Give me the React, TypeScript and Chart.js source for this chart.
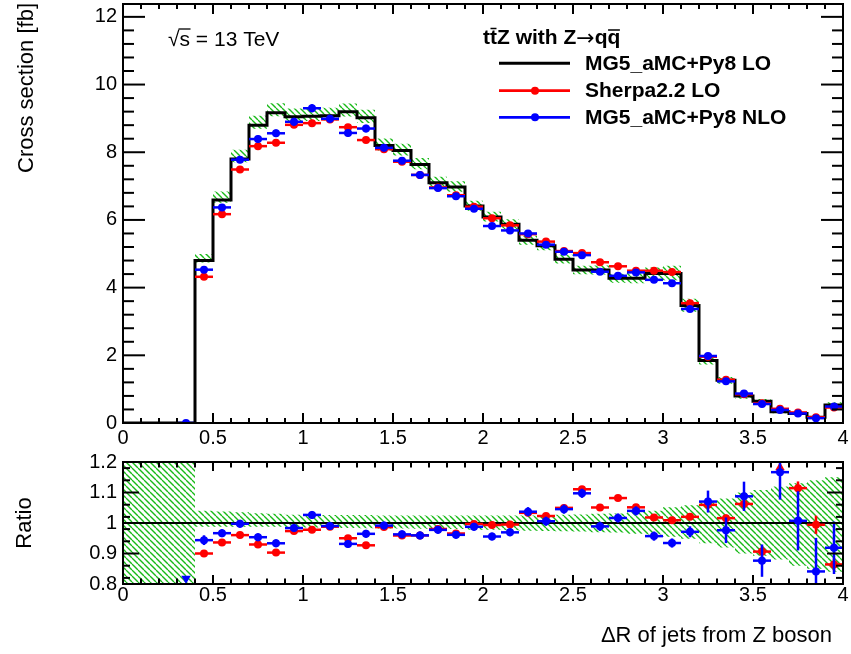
import React, { useEffect, useRef } from 'react';
import { Chart, registerables } from 'chart.js';

Chart.register(...registerables);

// ---------------- data ----------------
const binEdges = [0, 0.1, 0.2, 0.3, 0.4, 0.5, 0.6, 0.7, 0.8, 0.9, 1.0, 1.1, 1.2, 1.3, 1.4, 1.5, 1.6, 1.7, 1.8, 1.9, 2.0,
  2.1, 2.2, 2.3, 2.4, 2.5, 2.6, 2.7, 2.8, 2.9, 3.0, 3.1, 3.2, 3.3, 3.4, 3.5, 3.6, 3.7, 3.8, 3.9, 4.0];

// MG5_aMC+Py8 LO (black histogram)
const mg5LO = [0, 0, 0, 0, 4.8, 6.59, 7.8, 8.8, 9.17, 9.05, 9.06, 9.08, 9.2, 9.02, 8.2, 8.05, 7.64, 7.1, 6.97, 6.41,
  6.09, 5.87, 5.4, 5.24, 4.84, 4.52, 4.52, 4.28, 4.28, 4.42, 4.42, 3.47, 1.85, 1.26, 0.8, 0.64, 0.33, 0.28, 0.17, 0.53];

// Sherpa2.2 LO (red points)
const sherpaLO: (number | null)[] = [null, null, null, null, 4.32, 6.17, 7.49, 8.18, 8.28, 8.81, 8.86, 8.97, 8.74, 8.36,
  8.09, 7.72, 7.33, 6.96, 6.73, 6.39, 6.05, 5.84, 5.58, 5.36, 5.08, 5.02, 4.75, 4.63, 4.5, 4.5, 4.46, 3.54, 1.96, 1.28,
  0.85, 0.58, 0.42, 0.312, 0.169, 0.458];

// MG5_aMC+Py8 NLO (blue points)
const mg5NLO: (number | null)[] = [null, null, null, 0, 4.53, 6.37, 7.78, 8.39, 8.56, 8.9, 9.3, 8.99, 8.57, 8.7,
  8.13, 7.75, 7.33, 6.94, 6.7, 6.33, 5.82, 5.69, 5.6, 5.27, 5.06, 4.96, 4.47, 4.35, 4.45, 4.23, 4.13, 3.37, 1.98, 1.23,
  0.87, 0.561, 0.385, 0.282, 0.143, 0.487];

// relative statistical uncertainties of the points
const sherpaRelErr = [0, 0, 0, 0, 0.006, 0.006, 0.006, 0.006, 0.006, 0.006, 0.006, 0.006, 0.006, 0.006, 0.006, 0.006,
  0.006, 0.006, 0.006, 0.006, 0.006, 0.006, 0.006, 0.006, 0.006, 0.006, 0.006, 0.006, 0.006, 0.006, 0.006, 0.006,
  0.01, 0.012, 0.015, 0.018, 0.02, 0.022, 0.03, 0.02];
const nloRelErr = [0, 0, 0, 0, 0.016, 0.013, 0.013, 0.013, 0.013, 0.013, 0.013, 0.013, 0.013, 0.013, 0.013, 0.013,
  0.013, 0.013, 0.013, 0.013, 0.013, 0.013, 0.015, 0.015, 0.015, 0.015, 0.015, 0.015, 0.015, 0.015, 0.015, 0.018,
  0.036, 0.042, 0.048, 0.053, 0.09, 0.097, 0.11, 0.086];

// relative uncertainty band of the LO histogram (hatched)
const bandUp = [0, 0, 0, 0, 0.04, 0.038, 0.035, 0.032, 0.03, 0.027, 0.027, 0.026, 0.026, 0.026, 0.025, 0.025, 0.025,
  0.025, 0.025, 0.025, 0.025, 0.025, 0.025, 0.026, 0.027, 0.028, 0.03, 0.031, 0.036, 0.04, 0.052, 0.058, 0.069, 0.08,
  0.1, 0.108, 0.12, 0.13, 0.14, 0.15];
const bandDown = [0, 0, 0, 0, 0.012, 0.012, 0.012, 0.012, 0.012, 0.015, 0.015, 0.015, 0.016, 0.017, 0.018, 0.018,
  0.019, 0.02, 0.02, 0.022, 0.022, 0.024, 0.025, 0.026, 0.027, 0.028, 0.03, 0.031, 0.035, 0.038, 0.045, 0.052, 0.066,
  0.08, 0.1, 0.107, 0.12, 0.14, 0.15, 0.16];

const xMajorTicks = [0, 0.5, 1, 1.5, 2, 2.5, 3, 3.5, 4];
const yTicksTop = [0, 2, 4, 6, 8, 10, 12];
const yTicksRatio = [0.8, 0.9, 1, 1.1, 1.2];
const ratioMajorTicks = [0.9, 1.0, 1.1];
const ratioMinorTicks = [0.82, 0.86, 0.94, 0.98, 1.02, 1.06, 1.14, 1.18];

const legendEntries = ['MG5_aMC+Py8 LO', 'Sherpa2.2 LO', 'MG5_aMC+Py8 NLO'];

// ---------------- helpers ----------------
const FONT = '"Liberation Sans", Arial, Helvetica, sans-serif';
const RED = '#ff0000';
const BLUE = '#0000ff';
const HATCH = '#19b919';
const Y_MAX_TOP = 12.38;
const R_MIN = 0.8;
const R_MAX = 1.2;

const fmt = (v: number) => String(Math.round(v * 10) / 10);

function hatchPattern(color: string): CanvasPattern {
  const s = 6;
  const c = document.createElement('canvas');
  c.width = s;
  c.height = s;
  const g = c.getContext('2d')!;
  g.strokeStyle = color;
  g.lineWidth = 1.35;
  for (const k of [-1, 0, 1]) {
    g.beginPath();
    g.moveTo(k * s, 0);
    g.lineTo(k * s + s, s);
    g.stroke();
  }
  return g.createPattern(c, 'repeat')!;
}

function stepData(vals: number[]) {
  const pts: { x: number; y: number }[] = [];
  vals.forEach((v, i) => {
    pts.push({ x: binEdges[i], y: v }, { x: binEdges[i + 1], y: v });
  });
  return pts;
}

type PItem = { x: number; y: number; tri?: boolean; down?: boolean };
type EItem = { lo: number; hi: number; y: number; err: number; h: boolean };

function topPoints(vals: (number | null)[], rel: number[]) {
  const pts: PItem[] = [];
  const errs: EItem[] = [];
  vals.forEach((v, i) => {
    if (v == null) return;
    const lo = binEdges[i], hi = binEdges[i + 1];
    pts.push({ x: (lo + hi) / 2, y: v });
    errs.push({ lo, hi, y: v, err: rel[i] * v, h: true });
  });
  return { pts, errs };
}

function ratioPoints(vals: (number | null)[], rel: number[]) {
  const pts: PItem[] = [];
  const errs: EItem[] = [];
  vals.forEach((v, i) => {
    if (v == null) return;
    const lo = binEdges[i], hi = binEdges[i + 1];
    const r = mg5LO[i] > 0 ? v / mg5LO[i] : 0;
    if (r > R_MAX) {
      pts.push({ x: (lo + hi) / 2, y: 1.182, tri: true });
    } else if (r < R_MIN) {
      pts.push({ x: (lo + hi) / 2, y: 0.818, tri: true, down: true });
    } else {
      pts.push({ x: (lo + hi) / 2, y: r });
      errs.push({ lo, hi, y: r, err: rel[i], h: true });
    }
  });
  return { pts, errs };
}

const errorBarPlugin = {
  id: 'errorBars',
  beforeDatasetDraw(chart: any, args: any) {
    const ds = chart.data.datasets[args.index];
    const info = ds.errorBars;
    if (!info) return;
    const { ctx, chartArea: a } = chart;
    const xs = chart.scales.x, ys = chart.scales.y;
    ctx.save();
    ctx.beginPath();
    ctx.rect(a.left, a.top, a.right - a.left, a.bottom - a.top);
    ctx.clip();
    ctx.strokeStyle = info.color;
    ctx.lineCap = 'butt';
    ctx.lineWidth = 2.5;
    for (const it of info.items as EItem[]) {
      const y = ys.getPixelForValue(it.y);
      if (it.h) {
        ctx.beginPath();
        ctx.moveTo(xs.getPixelForValue(it.lo), y);
        ctx.lineTo(xs.getPixelForValue(it.hi), y);
        ctx.stroke();
      }
      if (it.err > 0) {
        const xc = xs.getPixelForValue((it.lo + it.hi) / 2);
        ctx.beginPath();
        ctx.moveTo(xc, ys.getPixelForValue(it.y - it.err));
        ctx.lineTo(xc, ys.getPixelForValue(it.y + it.err));
        ctx.stroke();
      }
    }
    ctx.restore();
  },
};

type Tick = { v: number; len: number };

function drawFrame(chart: any, xTicks: Tick[], yTicks: Tick[]) {
  const { ctx, chartArea: a } = chart;
  const xs = chart.scales.x, ys = chart.scales.y;
  ctx.save();
  ctx.strokeStyle = '#000';
  ctx.lineWidth = 2;
  ctx.lineCap = 'butt';
  const line = (x1: number, y1: number, x2: number, y2: number) => {
    ctx.beginPath();
    ctx.moveTo(x1, y1);
    ctx.lineTo(x2, y2);
    ctx.stroke();
  };
  for (const t of xTicks) {
    const x = xs.getPixelForValue(t.v);
    line(x, a.bottom, x, a.bottom - t.len);
    line(x, a.top, x, a.top + t.len);
  }
  for (const t of yTicks) {
    const y = ys.getPixelForValue(t.v);
    line(a.left, y, a.left + t.len, y);
    line(a.right, y, a.right - t.len, y);
  }
  ctx.strokeRect(a.left, a.top, a.right - a.left, a.bottom - a.top);
  ctx.restore();
}

function xAxis(height: number, pad: number) {
  return {
    type: 'linear',
    min: 0,
    max: 4,
    grid: { display: false, drawTicks: false },
    border: { display: false },
    afterBuildTicks: (s: any) => {
      s.ticks = xMajorTicks.map((v) => ({ value: v }));
    },
    afterFit: (s: any) => {
      s.height = height;
      s.paddingLeft = 0;
      s.paddingRight = 0;
    },
    ticks: {
      autoSkip: false,
      maxRotation: 0,
      minRotation: 0,
      padding: pad,
      color: '#000',
      font: { family: FONT, size: 20, lineHeight: 1 },
      callback: (v: any) => fmt(Number(v)),
    },
  };
}

function yAxis(min: number, max: number, ticks: number[], pad: number) {
  return {
    type: 'linear',
    min,
    max,
    grid: { display: false, drawTicks: false },
    border: { display: false },
    afterBuildTicks: (s: any) => {
      s.ticks = ticks.map((v) => ({ value: v }));
    },
    afterFit: (s: any) => {
      s.width = 123;
      s.paddingTop = 0;
      s.paddingBottom = 0;
    },
    ticks: {
      autoSkip: false,
      padding: pad,
      color: '#000',
      font: { family: FONT, size: 20, lineHeight: 1 },
      callback: (v: any) => fmt(Number(v)),
    },
  };
}

function pointDataset(label: string, color: string, pts: PItem[], errs: EItem[], order: number) {
  return {
    label,
    data: pts,
    showLine: false,
    order,
    pointStyle: (c: any) => (c.raw && c.raw.tri ? 'triangle' : 'circle'),
    pointRotation: (c: any) => (c.raw && c.raw.down ? 180 : 0),
    pointRadius: (c: any) => (c.raw && c.raw.tri ? 5.5 : 4),
    pointBackgroundColor: color,
    pointBorderColor: color,
    pointBorderWidth: 0,
    borderColor: color,
    backgroundColor: color,
    errorBars: { color, items: errs },
  };
}

function lineDataset(data: any[], opts: any) {
  return {
    data,
    showLine: true,
    pointRadius: 0,
    tension: 0,
    borderJoinStyle: 'miter',
    borderCapStyle: 'butt',
    ...opts,
  };
}

function buildTopConfig(hatch: CanvasPattern): any {
  const red = topPoints(sherpaLO, sherpaRelErr);
  const blue = topPoints(mg5NLO, nloRelErr);
  const upper = mg5LO.map((v, i) => v * (1 + bandUp[i]));
  const lower = mg5LO.map((v, i) => v * (1 - bandDown[i]));

  const xTicks: Tick[] = [];
  for (let k = 0; k <= 40; k++) xTicks.push({ v: k / 10, len: k % 5 === 0 ? 10 : 5 });
  const yTicks: Tick[] = [];
  for (let k = 0; k * 0.4 <= Y_MAX_TOP; k++) yTicks.push({ v: k * 0.4, len: k % 5 === 0 ? 22 : 11 });

  const decor = {
    id: 'topDecor',
    afterDraw(chart: any) {
      drawFrame(chart, xTicks, yTicks);
      const ctx = chart.ctx as CanvasRenderingContext2D;
      ctx.save();
      ctx.fillStyle = '#000';
      // y title
      ctx.save();
      ctx.translate(32.5, 3);
      ctx.rotate(-Math.PI / 2);
      ctx.font = `22px ${FONT}`;
      ctx.textAlign = 'right';
      ctx.textBaseline = 'alphabetic';
      ctx.fillText('Cross section [fb]', 0, 0);
      ctx.restore();

      // sqrt(s) label
      ctx.font = `21px ${FONT}`;
      ctx.textAlign = 'left';
      ctx.textBaseline = 'alphabetic';
      const sx = 168, sy = 45.5;
      ctx.fillText('\u221a', sx, sy);
      const wr = ctx.measureText('\u221a').width;
      ctx.fillText('s = 13 TeV', sx + wr, sy);
      const ws = ctx.measureText('s').width;
      ctx.strokeStyle = '#000';
      ctx.lineWidth = 1.3;
      ctx.beginPath();
      ctx.moveTo(sx + wr - 1, sy - 16.5);
      ctx.lineTo(sx + wr + ws + 0.5, sy - 16.5);
      ctx.stroke();

      // legend header: "t tbar Z with Z -> q qbar"
      const hx = 483, hy = 38.5;
      ctx.textBaseline = 'middle';
      const boldFont = `bold 21px ${FONT}`;
      const arrowFont = `22px "DejaVu Sans", ${FONT}`;
      const partA = 'ttZ with Z';
      const partB = 'qq';
      ctx.font = boldFont;
      const wA = ctx.measureText(partA).width;
      const w1 = ctx.measureText('t').width;
      const w2 = ctx.measureText('tt').width;
      const wq1 = ctx.measureText('q').width;
      const wq2 = ctx.measureText(partB).width;
      ctx.fillText(partA, hx, hy);
      ctx.font = arrowFont;
      const wArrow = ctx.measureText('\u2192').width;
      ctx.fillText('\u2192', hx + wA, hy + 1);
      ctx.font = boldFont;
      const qx = hx + wA + wArrow;
      ctx.fillText(partB, qx, hy);
      ctx.strokeStyle = '#000';
      ctx.lineWidth = 1.6;
      ctx.beginPath();
      ctx.moveTo(hx + w1 + 0.5, 28.5);
      ctx.lineTo(hx + w2 - 0.5, 28.5);
      ctx.moveTo(qx + wq1 + 0.5, 30);
      ctx.lineTo(qx + wq2 - 0.5, 30);
      ctx.stroke();

      // legend entries
      const rows = [63.3, 90.7, 117.3];
      const colors = ['#000', RED, BLUE];
      rows.forEach((ry, i) => {
        ctx.strokeStyle = colors[i];
        ctx.lineWidth = i === 0 ? 3 : 2.8;
        ctx.beginPath();
        ctx.moveTo(499, ry);
        ctx.lineTo(570, ry);
        ctx.stroke();
        if (i > 0) {
          ctx.fillStyle = colors[i];
          ctx.beginPath();
          ctx.arc(535, ry, 4, 0, Math.PI * 2);
          ctx.fill();
        }
        ctx.fillStyle = '#000';
        ctx.fillText(legendEntries[i], 585, ry + 0.5);
      });
      ctx.restore();
    },
  };

  return {
    type: 'line',
    data: {
      datasets: [
        lineDataset(stepData(upper), { borderWidth: 0, borderColor: 'rgba(0,0,0,0)', fill: '+1', backgroundColor: hatch, order: 4 }),
        lineDataset(stepData(lower), { borderWidth: 0, borderColor: 'rgba(0,0,0,0)', fill: false, order: 3 }),
        lineDataset(stepData(mg5LO), { label: legendEntries[0], borderWidth: 3, borderColor: '#000', fill: false, order: 2 }),
        pointDataset(legendEntries[1], RED, red.pts, red.errs, 1),
        pointDataset(legendEntries[2], BLUE, blue.pts, blue.errs, 0),
      ],
    },
    options: {
      responsive: false,
      animation: false,
      devicePixelRatio: 1,
      events: [],
      layout: { padding: { left: 0, right: 8, top: 2, bottom: 0 } },
      plugins: { legend: { display: false }, tooltip: { enabled: false } },
      scales: {
        x: xAxis(27, 5),
        y: yAxis(0, Y_MAX_TOP, yTicksTop, 6),
      },
    },
    plugins: [errorBarPlugin, decor],
  };
}

function buildRatioConfig(hatch: CanvasPattern): any {
  const red = ratioPoints(sherpaLO, sherpaRelErr);
  const blue = ratioPoints(mg5NLO, nloRelErr);
  const upper = mg5LO.map((v, i) => (v > 0 ? 1 + bandUp[i] : R_MAX));
  const lower = mg5LO.map((v, i) => (v > 0 ? 1 - bandDown[i] : R_MIN));

  const xTicks: Tick[] = [];
  for (let k = 0; k <= 40; k++) xTicks.push({ v: k / 10, len: k % 5 === 0 ? 9 : 5.5 });
  const yTicks: Tick[] = [
    ...ratioMajorTicks.map((v) => ({ v, len: 16 })),
    ...ratioMinorTicks.map((v) => ({ v, len: 7 })),
  ];

  const decor = {
    id: 'ratioDecor',
    afterDraw(chart: any) {
      drawFrame(chart, xTicks, yTicks);
      const ctx = chart.ctx as CanvasRenderingContext2D;
      ctx.save();
      ctx.fillStyle = '#000';
      ctx.font = `22px ${FONT}`;
      ctx.save();
      ctx.translate(30.5, 73);
      ctx.rotate(-Math.PI / 2);
      ctx.textAlign = 'center';
      ctx.textBaseline = 'alphabetic';
      ctx.fillText('Ratio', 0, 0);
      ctx.restore();
      ctx.textAlign = 'right';
      ctx.textBaseline = 'alphabetic';
      ctx.fillText('\u0394R of jets from Z boson', 832, 192);
      ctx.restore();
    },
  };

  return {
    type: 'line',
    data: {
      datasets: [
        lineDataset(stepData(upper), { borderWidth: 0, borderColor: 'rgba(0,0,0,0)', fill: '+1', backgroundColor: hatch, order: 4 }),
        lineDataset(stepData(lower), { borderWidth: 0, borderColor: 'rgba(0,0,0,0)', fill: false, order: 3 }),
        lineDataset([{ x: 0, y: 1 }, { x: 4, y: 1 }], { borderWidth: 2, borderColor: '#000', fill: false, order: 2 }),
        pointDataset(legendEntries[1], RED, red.pts, red.errs, 1),
        pointDataset(legendEntries[2], BLUE, blue.pts, blue.errs, 0),
      ],
    },
    options: {
      responsive: false,
      animation: false,
      devicePixelRatio: 1,
      events: [],
      layout: { padding: { left: 0, right: 8, top: 12, bottom: 0 } },
      plugins: { legend: { display: false }, tooltip: { enabled: false } },
      scales: {
        x: xAxis(70, 1),
        y: yAxis(R_MIN, R_MAX, yTicksRatio, 6),
      },
    },
    plugins: [errorBarPlugin, decor],
  };
}

export default function App() {
  const topRef = useRef<HTMLCanvasElement | null>(null);
  const botRef = useRef<HTMLCanvasElement | null>(null);

  useEffect(() => {
    Chart.defaults.font.family = FONT;
    const hatch = hatchPattern(HATCH);
    const topChart = new Chart(topRef.current!, buildTopConfig(hatch));
    const botChart = new Chart(botRef.current!, buildRatioConfig(hatch));
    return () => {
      topChart.destroy();
      botChart.destroy();
    };
  }, []);

  return (
    <div style={{ position: 'absolute', left: 0, top: 0, width: 851, height: 654, background: '#fff' }}>
      <canvas ref={topRef} width={851} height={450} style={{ position: 'absolute', left: 0, top: 0, display: 'block' }} />
      <canvas ref={botRef} width={851} height={204} style={{ position: 'absolute', left: 0, top: 450, display: 'block' }} />
    </div>
  );
}
